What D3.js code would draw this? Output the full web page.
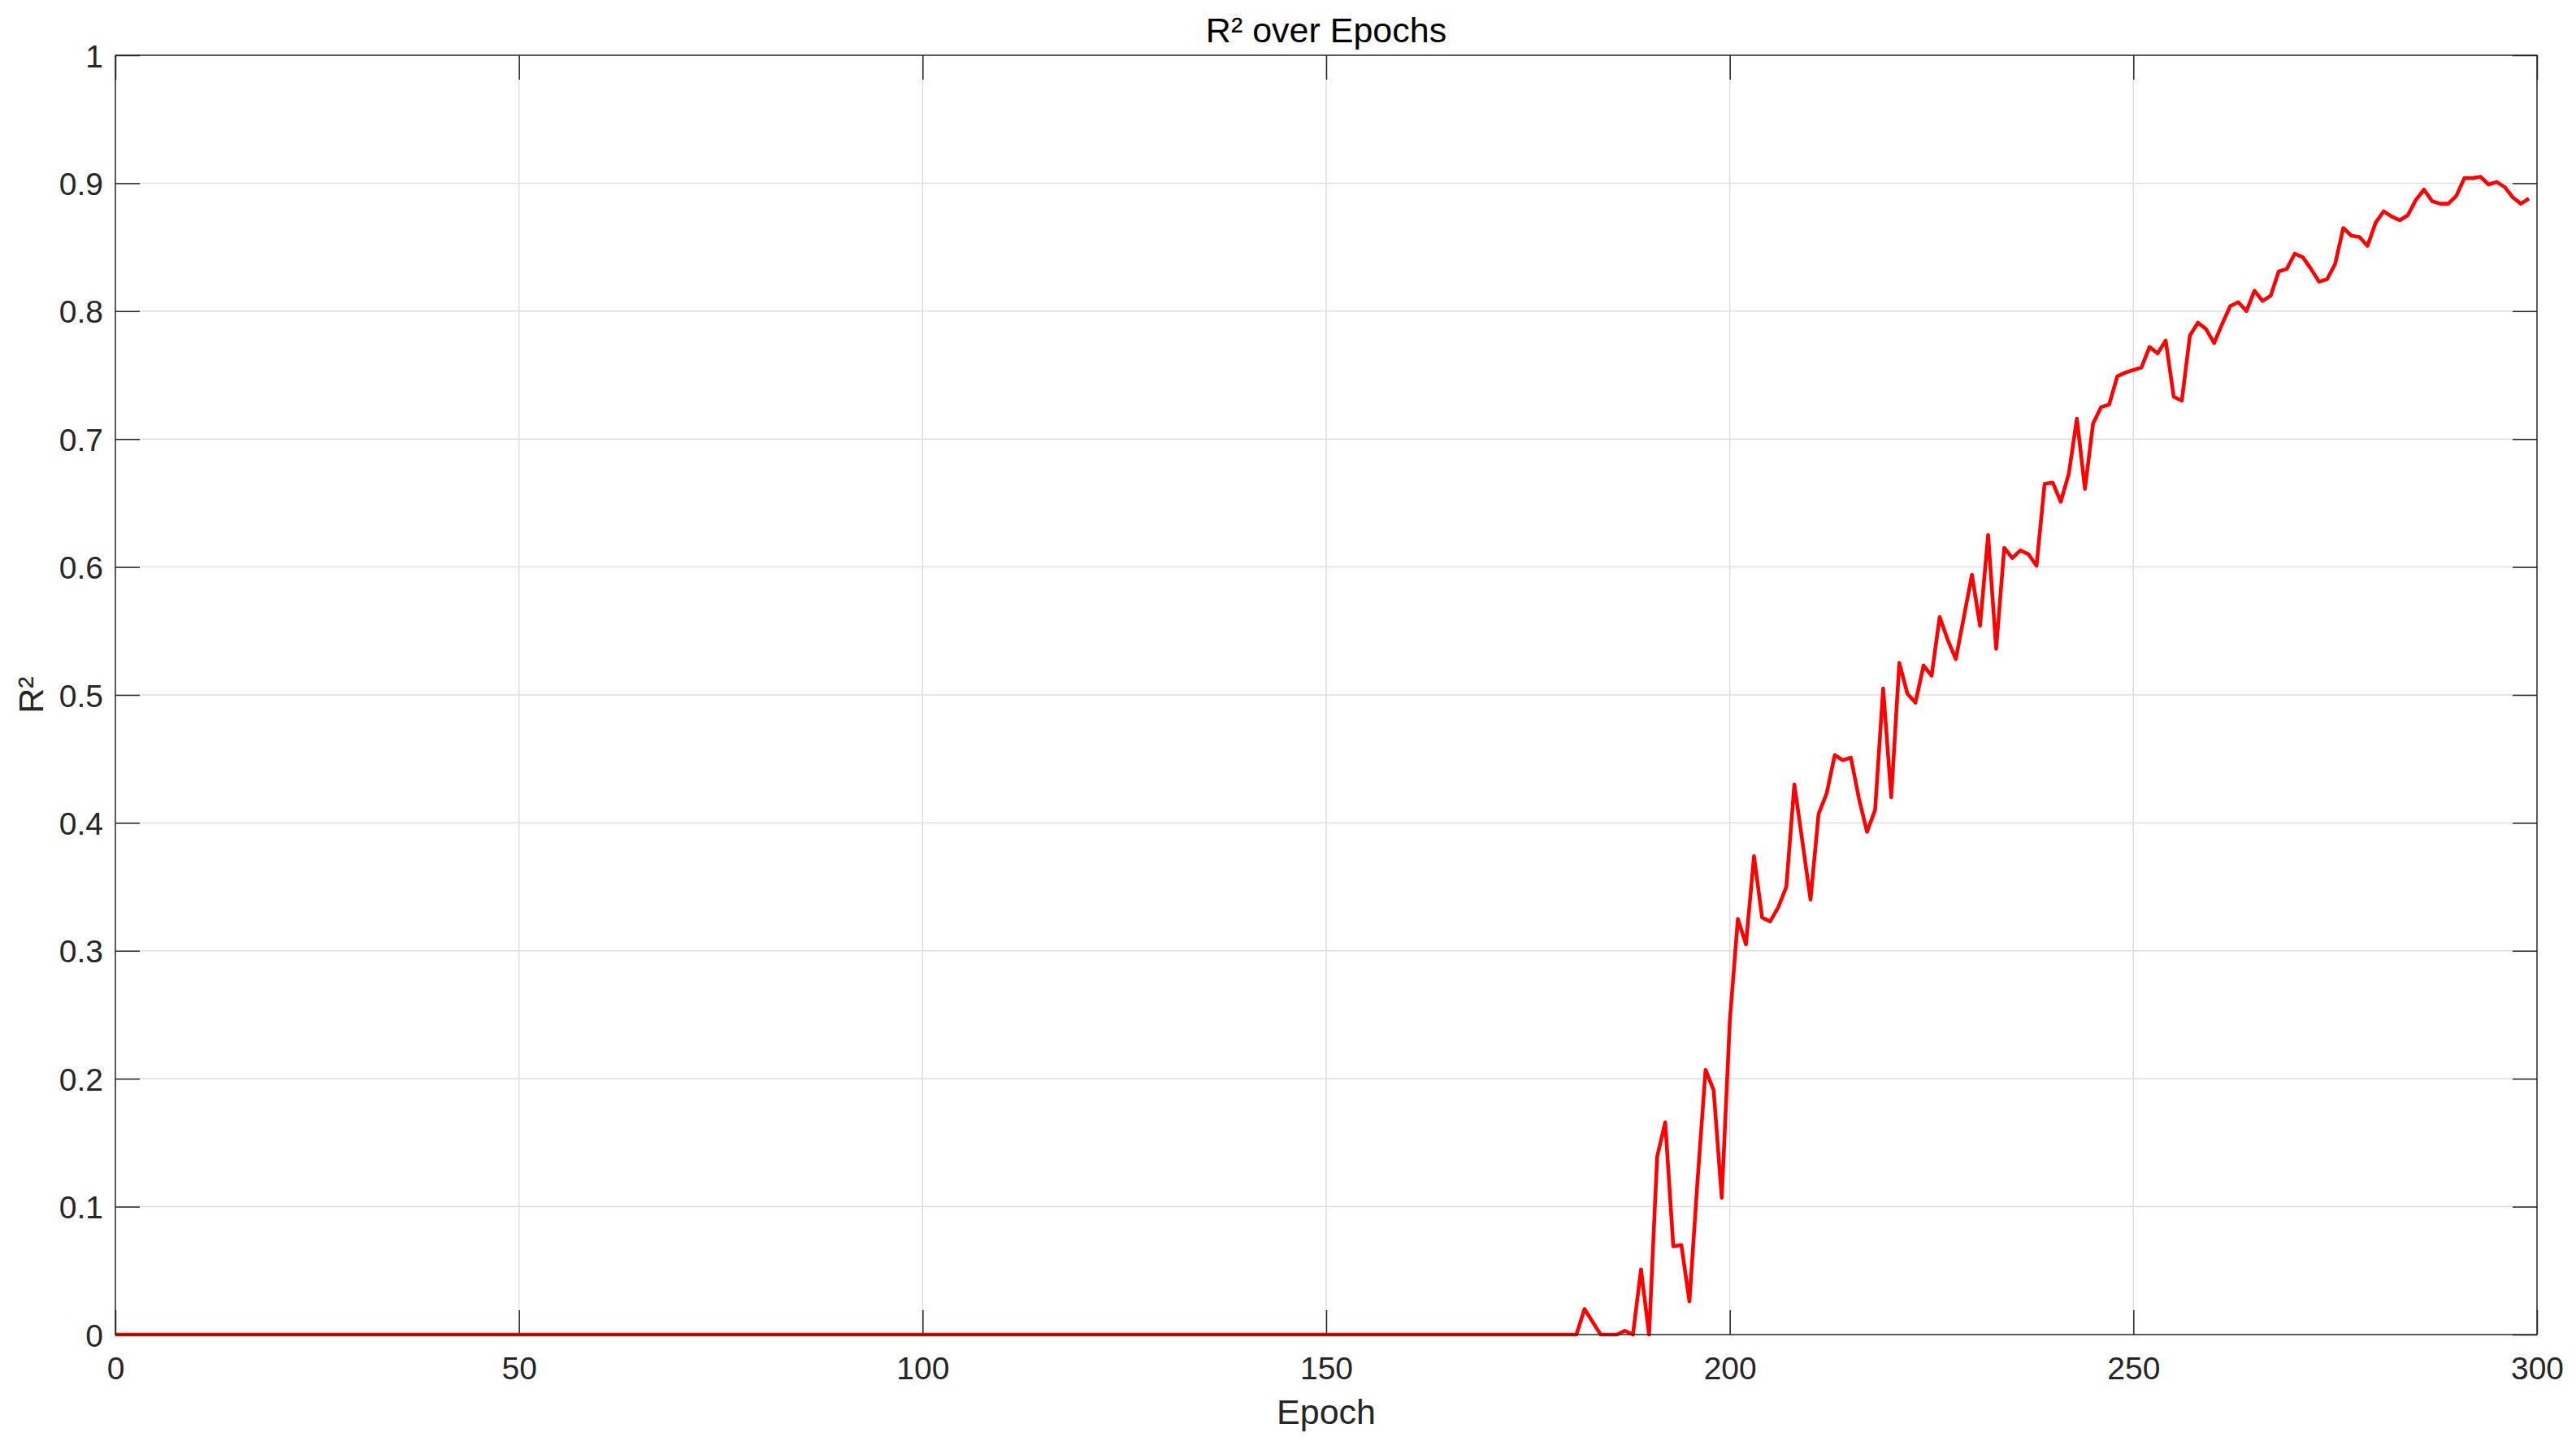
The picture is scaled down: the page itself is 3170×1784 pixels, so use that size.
<!DOCTYPE html>
<html>
<head>
<meta charset="utf-8">
<script src="https://cdn.jsdelivr.net/npm/d3@7"></script>
<style>
  html, body { margin: 0; padding: 0; background: #ffffff; }
  svg { display: block; }
</style>
</head>
<body>
<svg id="chart" width="3170" height="1784"></svg>
<script>
// ---- data ----
const titleText = "R² over Epochs";
const xLabelText = "Epoch";
const yLabelText = "R²";
const xTicks = [0, 50, 100, 150, 200, 250, 300];
const xTickLabels = ["0", "50", "100", "150", "200", "250", "300"];
const yTicks = [0, 0.1, 0.2, 0.3, 0.4, 0.5, 0.6, 0.7, 0.8, 0.9, 1];
const yTickLabels = ["0", "0.1", "0.2", "0.3", "0.4", "0.5", "0.6", "0.7", "0.8", "0.9", "1"];
// R² value for epochs 0..299 (index = epoch)
const r2Values = [
  0,0,0,0,0,0,0,0,0,0, 0,0,0,0,0,0,0,0,0,0,
  0,0,0,0,0,0,0,0,0,0, 0,0,0,0,0,0,0,0,0,0,
  0,0,0,0,0,0,0,0,0,0, 0,0,0,0,0,0,0,0,0,0,
  0,0,0,0,0,0,0,0,0,0, 0,0,0,0,0,0,0,0,0,0,
  0,0,0,0,0,0,0,0,0,0, 0,0,0,0,0,0,0,0,0,0,
  0,0,0,0,0,0,0,0,0,0, 0,0,0,0,0,0,0,0,0,0,
  0,0,0,0,0,0,0,0,0,0, 0,0,0,0,0,0,0,0,0,0,
  0,0,0,0,0,0,0,0,0,0, 0,0,0,0,0,0,0,0,0,0,
  0,0,0,0,0,0,0,0,0,0, 0,0,0,0,0,0,0,0,0,0,
  0,0,0.020,0.010,0,0,0,0.003,0,0.051,
  0,0.139,0.166,0.069,0.070,0.026,0.120,0.207,0.191,0.107,
  0.245,0.325,0.305,0.374,0.326,0.323,0.334,0.350,0.430,0.385,
  0.340,0.407,0.423,0.453,0.449,0.451,0.419,0.393,0.410,0.505,
  0.420,0.525,0.501,0.494,0.523,0.515,0.561,0.543,0.528,0.561,
  0.594,0.554,0.625,0.536,0.615,0.607,0.613,0.610,0.601,0.665,
  0.666,0.651,0.673,0.716,0.661,0.712,0.725,0.727,0.749,0.752,
  0.754,0.756,0.772,0.767,0.777,0.733,0.730,0.781,0.791,0.786,
  0.775,0.790,0.804,0.807,0.800,0.816,0.808,0.812,0.831,0.833,
  0.845,0.842,0.833,0.823,0.825,0.837,0.865,0.859,0.858,0.851,
  0.869,0.878,0.874,0.871,0.875,0.887,0.895,0.886,0.884,0.884,
  0.890,0.904,0.904,0.905,0.899,0.901,0.897,0.889,0.884,0.888
];

// ---- layout ----
const W = 3170, H = 1784;
const plot = { left: 142, right: 3122, top: 68, bottom: 1642 };
const axisColor = "#262626";
const gridColor = "#dedede";
const fontFam = "'Liberation Sans', Arial, Helvetica, sans-serif";
const tickLen = 30;

const svg = d3.select("#chart");
svg.append("rect").attr("width", W).attr("height", H).attr("fill", "#ffffff");

const x = d3.scaleLinear().domain([0, 300]).range([plot.left, plot.right]);
const y = d3.scaleLinear().domain([0, 1]).range([plot.bottom, plot.top]);

// grid
const grid = svg.append("g").attr("stroke", gridColor).attr("stroke-width", 1.5);
xTicks.filter(t => t > 0 && t < 300).forEach(t => {
  grid.append("line").attr("x1", x(t)).attr("x2", x(t)).attr("y1", plot.top).attr("y2", plot.bottom);
});
yTicks.filter(t => t > 0 && t < 1).forEach(t => {
  grid.append("line").attr("x1", plot.left).attr("x2", plot.right).attr("y1", y(t)).attr("y2", y(t));
});

// axes with inward ticks via d3 axis generators
const xAxisB = d3.axisBottom(x).tickValues(xTicks).tickFormat((d, i) => xTickLabels[i])
  .tickSizeInner(-tickLen).tickSizeOuter(0).tickPadding(tickLen + 25);
const xAxisT = d3.axisTop(x).tickValues(xTicks).tickFormat("").tickSizeInner(-tickLen).tickSizeOuter(0);
const yAxisL = d3.axisLeft(y).tickValues(yTicks).tickFormat((d, i) => yTickLabels[i])
  .tickSizeInner(-tickLen).tickSizeOuter(0).tickPadding(tickLen + 15);
const yAxisR = d3.axisRight(y).tickValues(yTicks).tickFormat("").tickSizeInner(-tickLen).tickSizeOuter(0);

function styleAxis(g) {
  g.select(".domain").remove();
  g.selectAll(".tick line").attr("stroke", axisColor).attr("stroke-width", 1.5);
  g.selectAll(".tick text").attr("fill", axisColor).style("font-family", fontFam).style("font-size", "39px");
}

const gxB = svg.append("g").attr("transform", `translate(0,${plot.bottom})`).call(xAxisB).call(styleAxis);
gxB.selectAll(".tick text").attr("dy", null).attr("y", 55);
const gxT = svg.append("g").attr("transform", `translate(0,${plot.top})`).call(xAxisT).call(styleAxis);
const gyL = svg.append("g").attr("transform", `translate(${plot.left},0)`).call(yAxisL).call(styleAxis);
gyL.selectAll(".tick text").attr("x", -15).attr("dy", "0.36em");
const gyR = svg.append("g").attr("transform", `translate(${plot.right},0)`).call(yAxisR).call(styleAxis);

// data line
const line = d3.line().x((d, i) => x(i)).y(d => y(d));
svg.append("path")
  .datum(r2Values)
  .attr("fill", "none")
  .attr("stroke", "#ff0000")
  .attr("stroke-width", 4.6)
  .attr("stroke-linejoin", "round")
  .attr("d", line);

// box
svg.append("rect")
  .attr("x", plot.left).attr("y", plot.top)
  .attr("width", plot.right - plot.left).attr("height", plot.bottom - plot.top)
  .attr("fill", "none").attr("stroke", axisColor).attr("stroke-width", 1.5);

// title and labels
svg.append("text")
  .attr("x", (plot.left + plot.right) / 2).attr("y", 52)
  .attr("text-anchor", "middle")
  .style("font-family", fontFam).style("font-size", "43px").attr("fill", "#000000")
  .text(titleText);

svg.append("text")
  .attr("x", (plot.left + plot.right) / 2).attr("y", 1752)
  .attr("text-anchor", "middle")
  .style("font-family", fontFam).style("font-size", "43px").attr("fill", axisColor)
  .text(xLabelText);

svg.append("text")
  .attr("transform", `translate(53,${(plot.top + plot.bottom) / 2}) rotate(-90)`)
  .attr("text-anchor", "middle")
  .style("font-family", fontFam).style("font-size", "43px").attr("fill", axisColor)
  .text(yLabelText);
</script>
</body>
</html>
